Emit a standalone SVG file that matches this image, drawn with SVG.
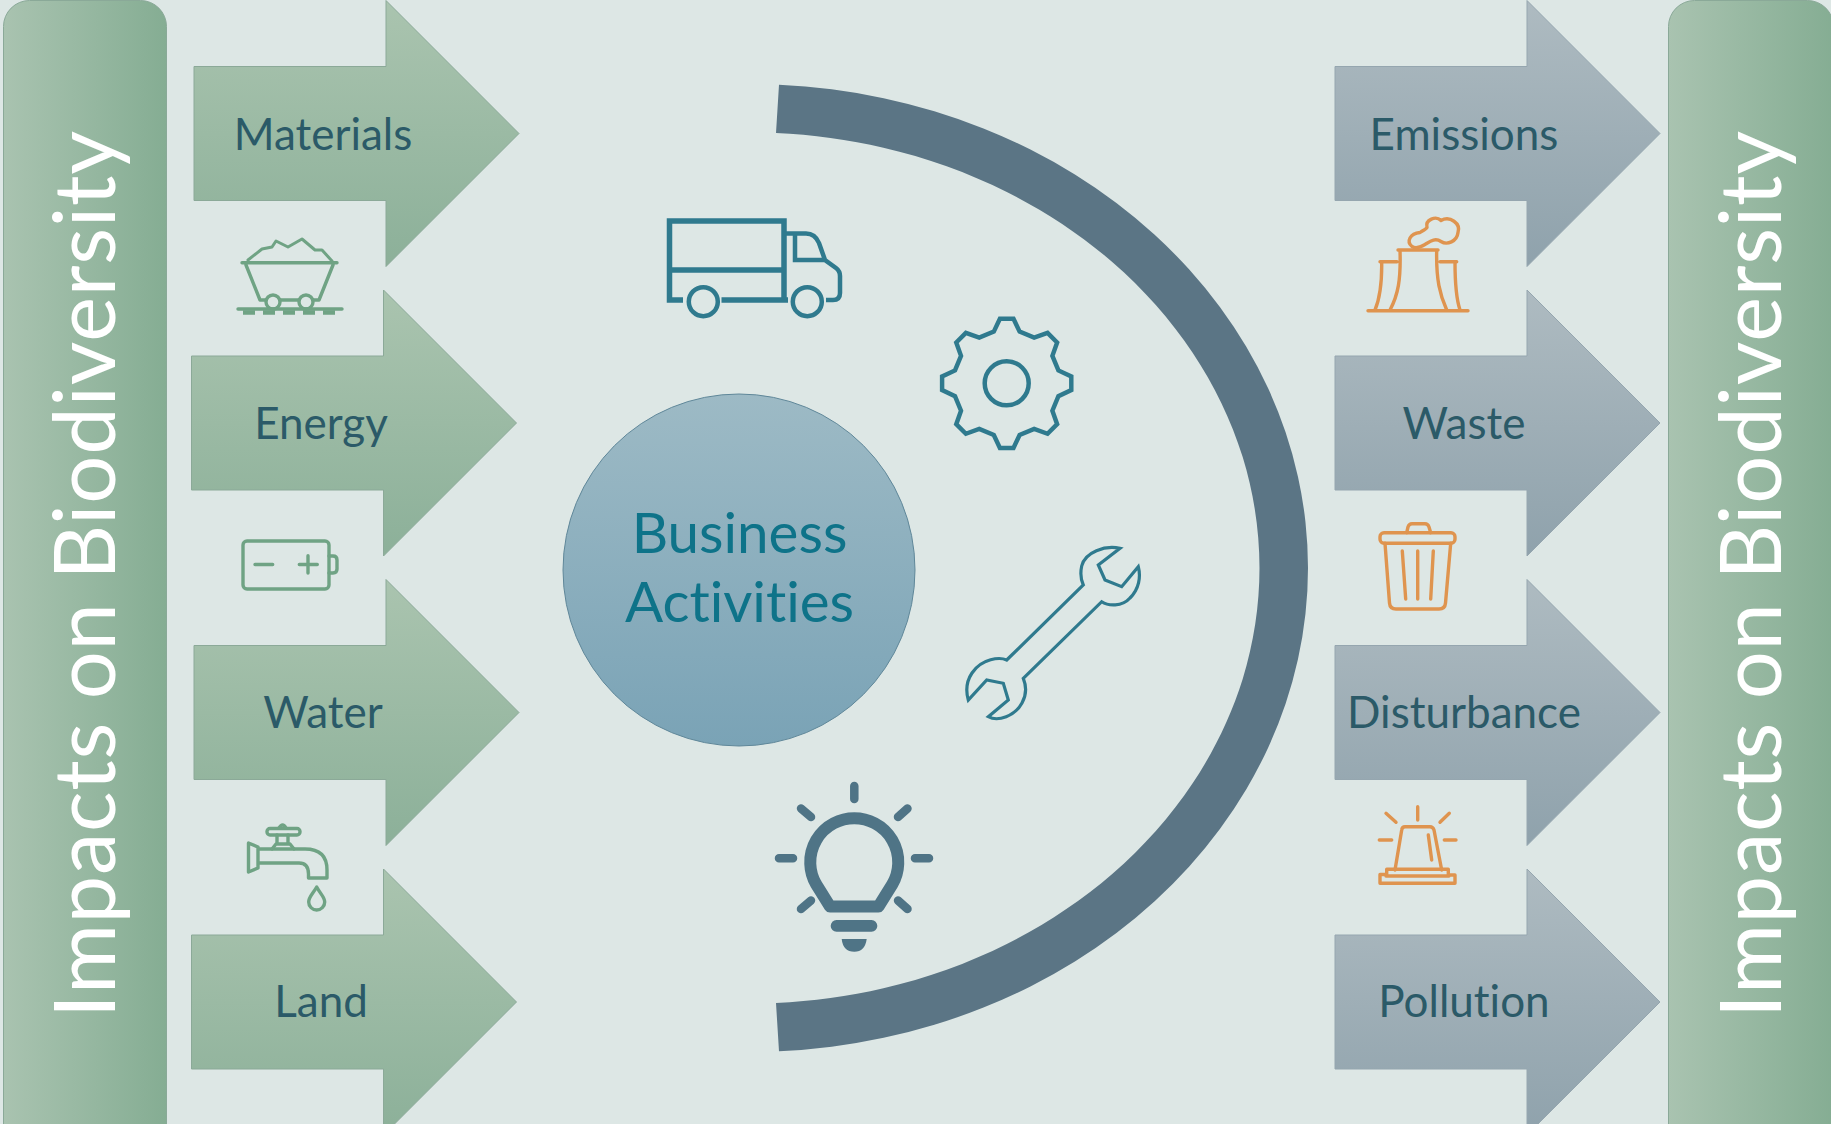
<svg xmlns="http://www.w3.org/2000/svg" xmlns:xlink="http://www.w3.org/1999/xlink" width="1831" height="1124" viewBox="0 0 1831 1124">
<defs>
<linearGradient id="barG" x1="0" y1="0" x2="1" y2="0"><stop offset="0" stop-color="#a9c3b0"/><stop offset="1" stop-color="#85ad93"/></linearGradient>
<linearGradient id="greenG" x1="0" y1="0" x2="0" y2="1"><stop offset="0" stop-color="#aac4af"/><stop offset="1" stop-color="#8cb099"/></linearGradient>
<linearGradient id="greyG" x1="0" y1="0" x2="0" y2="1"><stop offset="0" stop-color="#aebbc1"/><stop offset="1" stop-color="#8fa2ac"/></linearGradient>
<linearGradient id="circG" x1="0" y1="0" x2="0" y2="1"><stop offset="0" stop-color="#9dbac5"/><stop offset="1" stop-color="#7aa3b6"/></linearGradient>
<path id="arrowShape" d="M0,66 H192 V0 L325,133 L192,266 V200 H0 Z"/>
</defs>
<style>
text{font-variant-ligatures:none}
.lbl{font-family:"Lato","Noto Sans",sans-serif;font-size:44px;fill:#2b5a68;text-anchor:middle}
.side{font-family:"Lato","Noto Sans",sans-serif;font-size:85px;fill:#fff;text-anchor:start}
.biz{font-family:"Lato","Noto Sans",sans-serif;font-size:56.500px;fill:#0e7389;text-anchor:middle}
.ga{fill:url(#greenG);stroke:#8ba998;stroke-width:1}
.ya{fill:url(#greyG);stroke:#95a6af;stroke-width:1}
.ig{fill:none;stroke:#6fa384;stroke-width:3.400;stroke-linejoin:round;stroke-linecap:round}
.io{fill:none;stroke:#df944f;stroke-width:3.400;stroke-linejoin:round;stroke-linecap:round}
.it{fill:none;stroke:#2f7a8e;stroke-linejoin:miter}
.ib{fill:none;stroke:#4f7486;stroke-linecap:round;stroke-linejoin:round}
</style>
<rect id="background" width="1831" height="1124" fill="#dde7e5"/>

<g id="bar-left">
<rect x="3.500" y="0.500" width="163" height="1180" rx="26" fill="url(#barG)" stroke="#8aa998"/>
<text class="side" transform="translate(115,1018) rotate(-90)" textLength="887" lengthAdjust="spacing">Impacts on Biodiversity</text>
</g>
<g id="bar-right">
<rect x="1668.500" y="0.500" width="165" height="1180" rx="26" fill="url(#barG)" stroke="#8aa998"/>
<text class="side" transform="translate(1781,1018) rotate(-90)" textLength="887" lengthAdjust="spacing">Impacts on Biodiversity</text>
</g>

<g id="arrow-materials"><use xlink:href="#arrowShape" href="#arrowShape" class="ga" transform="translate(194,0.500)"/><text class="lbl" x="323" y="149.500">Materials</text></g>
<g id="arrow-energy"><use xlink:href="#arrowShape" href="#arrowShape" class="ga" transform="translate(191.500,290)"/><text class="lbl" x="321" y="438.500">Energy</text></g>
<g id="arrow-water"><use xlink:href="#arrowShape" href="#arrowShape" class="ga" transform="translate(194,579.500)"/><text class="lbl" x="323" y="727.500">Water</text></g>
<g id="arrow-land"><use xlink:href="#arrowShape" href="#arrowShape" class="ga" transform="translate(191.500,869)"/><text class="lbl" x="321" y="1016.500">Land</text></g>

<g id="arrow-emissions"><use xlink:href="#arrowShape" href="#arrowShape" class="ya" transform="translate(1335,0.500)"/><text class="lbl" x="1464" y="149.500">Emissions</text></g>
<g id="arrow-waste"><use xlink:href="#arrowShape" href="#arrowShape" class="ya" transform="translate(1335,290)"/><text class="lbl" x="1464" y="438.500">Waste</text></g>
<g id="arrow-disturbance"><use xlink:href="#arrowShape" href="#arrowShape" class="ya" transform="translate(1335,579.500)"/><text class="lbl" x="1464" y="727.500">Disturbance</text></g>
<g id="arrow-pollution"><use xlink:href="#arrowShape" href="#arrowShape" class="ya" transform="translate(1335,869)"/><text class="lbl" x="1464" y="1016.500">Pollution</text></g>

<g id="arc"><path d="M779,84.700 A558,484 0 0 1 1308,568 A558,484 0 0 1 779,1051.300 L776,1003 C812.800,1001.400 848.500,996.400 883.400,988.300 C926.200,978.400 968.100,963.500 1007.300,943.800 C1045,924.900 1080.900,901.200 1112.800,873.600 C1143.200,847.200 1170.500,816.600 1192.800,783.100 C1214.100,751.100 1231.300,715.800 1242.700,679 C1253.700,643.300 1259.500,605.400 1259.500,568 C1259.500,530.600 1253.700,492.700 1242.700,457 C1231.300,420.200 1214.100,384.900 1192.800,352.900 C1170.500,319.400 1143.200,288.800 1112.800,262.400 C1080.900,234.800 1045,211.100 1007.300,192.200 C968.100,172.500 926.200,157.600 883.400,147.700 C848.500,139.600 812.800,134.600 776,133 Z" fill="#5b7585"/></g>

<g id="business-activities">
<circle cx="739" cy="570" r="176" fill="url(#circG)" stroke="#5f8799" stroke-width="1"/>
<text class="biz" x="739.500" y="553">Business</text>
<text class="biz" x="739.500" y="622">Activities</text>
</g>

<g id="icon-truck" class="it">
<path d="M683,300 H669.500 V221 H784 V300 M721.500,300 H788 M669.500,270 H784" stroke-width="5.500"/>
<path d="M784,233.500 H806 Q815,233.500 819,243 L825,260 L836,268 Q840,271 840,276 V293 Q840,300 833,300 H826 M795,234 V260 H825" stroke-width="4.500"/>
<circle cx="703.300" cy="301.700" r="14.500" stroke-width="4.500"/>
<circle cx="807.300" cy="301.700" r="14.500" stroke-width="4.500"/>
</g>

<g id="icon-gear" class="it" transform="translate(1006.700,383.300)">
<path stroke-width="4.600" transform="scale(.97)" d="M-13.300,-53.300 L-7,-66.600 L7,-66.600 L13.300,-53.300 L28.300,-47.100 L42.100,-52 L52,-42.100 L47.100,-28.300 L53.300,-13.300 L66.600,-7 L66.600,7 L53.300,13.300 L47.100,28.300 L52,42.100 L42.100,52 L28.300,47.100 L13.300,53.300 L7,66.600 L-7,66.600 L-13.300,53.300 L-28.300,47.100 L-42.100,52 L-52,42.100 L-47.100,28.300 L-53.300,13.300 L-66.600,7 L-66.600,-7 L-53.300,-13.300 L-47.100,-28.300 L-52,-42.100 L-42.100,-52 L-28.300,-47.100 Z"/>
<circle r="22" stroke-width="4.500"/>
</g>

<g id="icon-wrench" class="it">
<path stroke-width="3.200" d="M1120,548.300 C1105,545 1085,552 1081.700,566 C1080,574 1081,580 1083.300,585 L1006.700,660 C1000,657 982,658 972,673 C966,682 966,692 968.300,700 L986.700,680 L1003.300,683.300 L1008.300,700 L988.300,716.700 C998,722 1015,716 1022,703 C1027,694 1026,685 1023.300,678.300 L1101.700,601.700 C1108,606 1122,607 1130,598 C1139,589 1141,577 1138.300,566.700 L1121.700,586.700 L1105,580 L1098.300,565 Z"/>
</g>

<g id="icon-bulb" class="ib">
<path stroke-width="12" d="M830,906.500 L816,884 A44,44 0 1 1 892.500,884 L878.500,906.500 Z"/>
<path stroke-width="8.500" d="M854.300,786 V799 M779,858.300 H793 M915,858.300 H929 M801,808.500 L811,817 M907.500,808.500 L898,817 M801,909 L811,900.500 M907.500,909 L898,900.500"/>
<rect x="830.700" y="920" width="46.600" height="11.700" rx="5.800" fill="#4f7486" stroke="none"/>
<path d="M841.700,939 H866.700 Q865,951.700 854.300,951.700 Q843,951.700 841.700,939 Z" fill="#4f7486" stroke="none"/>
</g>

<g id="icon-cart" class="ig">
<path d="M242,262.700 H337 M246,265 L260,300 H266 M280,300 H299 M313,300 H319 L333,265"/>
<path d="M248,260 L262,249 L272,247 L276,241 L288,247 L302,239 L315,250 L322,250 L332,261" stroke-width="3"/>
<circle cx="273" cy="302" r="7"/><circle cx="306" cy="302" r="7"/>
<path d="M238,309 H342"/>
<path stroke-width="4.500" stroke-linecap="butt" d="M243,312.500 H255 M263,312.500 H275 M283,312.500 H295 M303,312.500 H315 M323,312.500 H335"/>
</g>

<g id="icon-battery" class="ig">
<rect x="243" y="541" width="86" height="48" rx="4"/>
<path d="M329,556 H333 Q337,556 337,560 V569 Q337,573 333,573 H329 M255,564.500 H272.700 M299.300,564.500 H317.300 M308,555.700 V573"/>
</g>

<g id="icon-tap" class="ig">
<path d="M248.500,843 L258,847 V868 L248.500,872 Z M258,849 H305 Q327,849 327,870 V878 H308.500 V874 Q308.500,863 299,863 H258"/>
<rect x="267" y="828.500" width="33" height="6.500" rx="3"/>
<path d="M279,828 Q282.700,822 286,828 M277,835 V844 M288,835 V844 M272,849 L276,844 H290 L294,849"/>
<path d="M316.700,887 C312,895 308.700,897 308.700,902 A8,8 0 0 0 324.700,902 C324.700,897 321,895 316.700,887 Z"/>
</g>

<g id="icon-factory" class="io">
<path d="M1368,310.700 H1468 M1398,250 H1438 M1400,250 C1401,280 1398,295 1390,310 M1436.700,250 C1436,280 1440,295 1446.700,310 M1380,261.700 H1397 M1381.700,262 C1382,285 1380,298 1375,310 M1440,261.700 H1456.700 M1455,262 C1455,285 1456,298 1460,310"/>
<path transform="translate(0,1.500)" d="M1412,245 C1406,240 1410,232 1420,231 C1424,228 1426,228 1427,226 C1425,218 1436,214 1441,219 C1450,214 1461,222 1458,231 C1457,240 1447,244 1441,240 C1435,236 1430,240 1425,243 C1420,246 1415,247 1412,245 Z"/>
</g>

<g id="icon-trash" class="io" transform="translate(0,1)">
<rect x="1380" y="531.700" width="75" height="10.600" rx="4"/>
<path d="M1406.700,531.700 L1408,526 Q1409,522.700 1412,522.700 H1425 Q1428,522.700 1429,526 L1430.700,531.700"/>
<path d="M1385,542.300 L1389.500,602 Q1390,608 1396,608 H1439 Q1445,608 1445.500,602 L1450.700,542.300"/>
<path d="M1402.300,550 L1405.700,598 M1417.700,550 V598 M1433.300,550 L1430.700,598"/>
</g>

<g id="icon-alarm" class="io">
<path d="M1395,870 L1401.700,830 Q1402,826.700 1405,826.700 H1430 Q1433,826.700 1434,830 L1441.700,870"/>
<path d="M1428.300,835 L1431.700,860"/>
<path d="M1380,883.300 V874.500 H1386.700 V869.300 H1448.300 V875 H1455 V883.300 Z M1386,876 H1449"/>
<path d="M1417.700,806.700 V820 M1386,813.300 L1396,822.300 M1449.300,813.300 L1440,822.300 M1379.300,840 H1391.700 M1444.300,840 H1456"/>
</g>
</svg>
